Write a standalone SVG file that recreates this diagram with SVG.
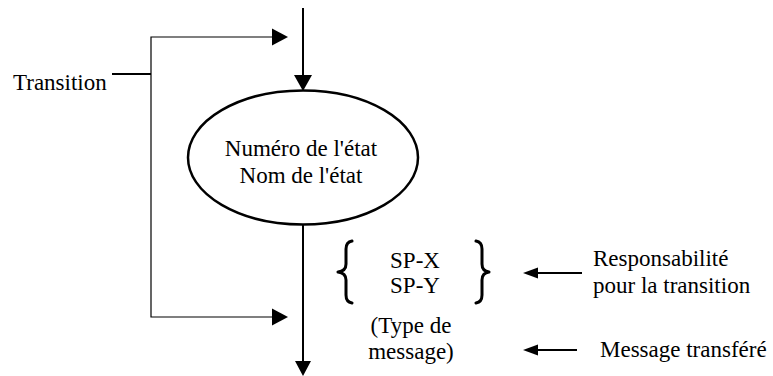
<svg xmlns="http://www.w3.org/2000/svg" width="773" height="376" viewBox="0 0 773 376">
<style>
text{font-family:"Liberation Serif","Times New Roman",serif;font-size:23px;fill:#000}
.mid{text-anchor:middle}
.thin{stroke:#000;stroke-width:1.2;fill:none}
.thick{stroke:#000;stroke-width:2;fill:none}
.head{fill:#000;stroke:none}
.brace{stroke:#000;stroke-width:3;fill:none;stroke-linejoin:round;stroke-linecap:round}
</style>
<rect width="773" height="376" fill="#fff"/>
<g id="connectors">
  <line class="thick" x1="303" y1="8" x2="303" y2="80"/>
  <polygon class="head" points="294,75 312,75 303,91"/>
  <line class="thick" x1="303" y1="225" x2="303" y2="366"/>
  <polygon class="head" points="295,361 311,361 303,376"/>
  <polyline class="thin" points="284,37 151,37 151,317 284,317"/>
  <polygon class="head" points="272,28.5 288,37 272,45.5"/>
  <polygon class="head" points="272,308.5 288,317 272,325.5"/>
  <line class="thick" x1="112" y1="74" x2="151" y2="74"/>
  <line class="thick" x1="582" y1="273" x2="534" y2="273"/>
  <polygon class="head" points="538,267.5 523,273 538,278.5"/>
  <line class="thick" x1="577" y1="350" x2="534" y2="350"/>
  <polygon class="head" points="538,344.5 523,350 538,355.5"/>
</g>
<g id="transition-label">
  <text x="13" y="90">Transition</text>
</g>
<g id="state">
  <ellipse cx="303" cy="157.5" rx="115" ry="67" fill="none" stroke="#000" stroke-width="2.5"/>
  <text class="mid" x="301" y="156">Numéro de l'état</text>
  <text class="mid" x="301" y="183">Nom de l'état</text>
</g>
<g id="responsibility">
  <path class="brace" d="M352,241 Q346,242 346,249 L346,264 Q346,271 338,272 Q346,273 346,280 L346,295 Q346,302 352,303"/>
  <path class="brace" d="M476,241 Q482,242 482,249 L482,264 Q482,271 489,272 Q482,273 482,280 L482,295 Q482,302 476,303"/>
  <text class="mid" x="415" y="268">SP-X</text>
  <text class="mid" x="415" y="293">SP-Y</text>
</g>
<g id="message-type">
  <text class="mid" x="411" y="333">(Type de</text>
  <text class="mid" x="411" y="359">message)</text>
</g>
<g id="responsibility-label">
  <text x="593" y="266">Responsabilité</text>
  <text x="593" y="293">pour la transition</text>
</g>
<g id="message-label">
  <text x="600" y="357">Message transféré</text>
</g>
</svg>
